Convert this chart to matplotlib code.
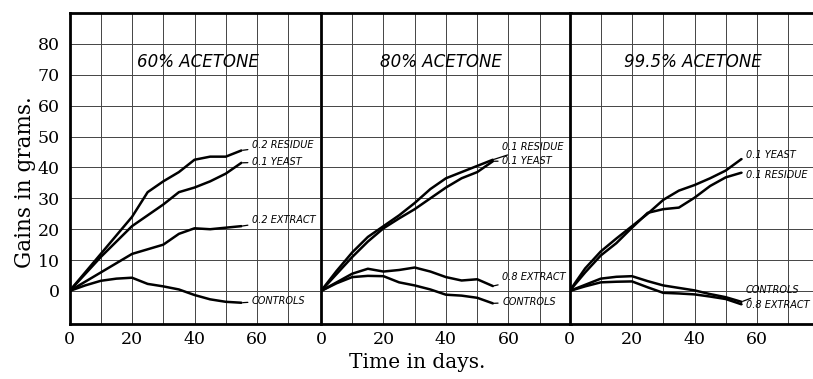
import numpy as np
import matplotlib
matplotlib.use('Agg')
import matplotlib.pyplot as plt

days = [0, 5, 10, 15, 20, 25, 30, 35, 40, 45, 50, 55]

# 60 % acetone
p60_residue = [0, 6, 12, 18, 24, 32, 35.5, 38.5, 42.5, 43.5, 43.5, 45.5]
p60_yeast = [0, 5.5, 11, 16, 21, 24.5, 28, 32, 33.5, 35.5, 38, 41.5]
p60_extract = [0, 3, 6, 9, 12, 13.5, 15, 18.5, 20.3, 20, 20.5, 21]
p60_controls = [0, 1.8, 3.3, 4, 4.3, 2.3, 1.5, 0.5, -1.3, -2.7, -3.5, -3.8]

# 80 % acetone
p80_residue = [0, 6.5, 12.5, 17.5, 21, 24.5, 28.5, 33, 36.5, 38.5, 40.5, 42.5]
p80_yeast = [0, 5.5, 11, 16, 20.3, 23.5, 26.5, 30, 33.5, 36.5, 38.5, 42]
p80_extract = [0, 2.8, 5.6, 7.2, 6.3, 6.8, 7.6, 6.3, 4.5, 3.4, 3.8, 1.6]
p80_controls = [0, 2.5, 4.5, 4.9, 4.8, 2.8, 1.8, 0.5, -1.2, -1.5, -2.2, -4]

# 99.5 % acetone
p995_yeast = [0, 7.3, 12.8, 17, 21, 25, 29.5, 32.5, 34.3, 36.5, 39, 42.7]
p995_residue = [0, 6, 11.5, 15.5, 20.5, 25.3, 26.5, 27, 30.2, 34, 36.8, 38.3]
p995_controls = [0, 2, 4, 4.6, 4.8, 3.2, 1.8, 1, 0.2, -1, -2, -3.5]
p995_extract = [0, 1.5, 2.8, 3, 3.1, 1.2, -0.6, -0.8, -1.1, -1.8, -2.6, -4.3]

titles = ['60% ACETONE', '80% ACETONE', '99.5% ACETONE']
title_x = [41, 38.5, 39.4]

panels = [
    [(p60_residue, '0.2 RESIDUE', 47.3), (p60_yeast, '0.1 YEAST', 41.8),
     (p60_extract, '0.2 EXTRACT', 23), (p60_controls, 'CONTROLS', -3.1)],
    [(p80_residue, '0.1 RESIDUE', 46.7), (p80_yeast, '0.1 YEAST', 42.2),
     (p80_extract, '0.8 EXTRACT', 4.6), (p80_controls, 'CONTROLS', -3.5)],
    [(p995_yeast, '0.1 YEAST', 44), (p995_residue, '0.1 RESIDUE', 37.6),
     (p995_controls, 'CONTROLS', 0.3), (p995_extract, '0.8 EXTRACT', -4.5)],
]
label_x = [58.4, 58, 56.5]

serif = 'DejaVu Serif'
fig = plt.figure(figsize=(8.13, 3.79), dpi=100)
lefts = [0.0855, 0.3948, 0.7005]
for k in range(3):
    ax = fig.add_axes([lefts[k], 0.145, 0.3075, 0.8206])
    ax.set_xlim(0, 80)
    ax.set_ylim(-10.7, 90)
    ax.set_xticks(np.arange(0, 81, 10))
    ax.set_xticklabels(['0', '', '20', '', '40', '', '60', '', ''],
                       family=serif, fontsize=12.5)
    ax.set_yticks(np.arange(0, 81, 10))
    if k == 0:
        ax.set_yticklabels([str(v) for v in range(0, 81, 10)],
                           family=serif, fontsize=12.5)
    else:
        ax.set_yticklabels([])
    ax.tick_params(length=0, pad=5)
    ax.tick_params(axis='y', pad=7)
    ax.grid(True, color='#444444', linewidth=0.7)
    ax.set_axisbelow(True)
    for s in ['left', 'top', 'bottom']:
        ax.spines[s].set_linewidth(2)
    ax.spines['right'].set_visible(False)

    for vals, name, ly in panels[k]:
        ax.plot(days, vals, color='black', linewidth=1.8, solid_capstyle='round')
        ax.annotate(name, xy=(days[-1], vals[-1]), xytext=(label_x[k], ly),
                    fontsize=7, fontstyle='italic', va='center', ha='left',
                    arrowprops=dict(arrowstyle='-', color='black', lw=0.9,
                                    shrinkA=1, shrinkB=1))
    ax.text(title_x[k], 74, titles[k], fontsize=12, fontstyle='italic',
            ha='center', va='center')

fig.text(25 / 813, 1 - 182 / 379, 'Gains in grams.', rotation=90,
         family=serif, fontsize=15.5, ha='center', va='center')
fig.text(417 / 813, 1 - 362 / 379, 'Time in days.', family=serif,
         fontsize=14.5, ha='center', va='center')

fig.savefig('out.png', dpi=100)
